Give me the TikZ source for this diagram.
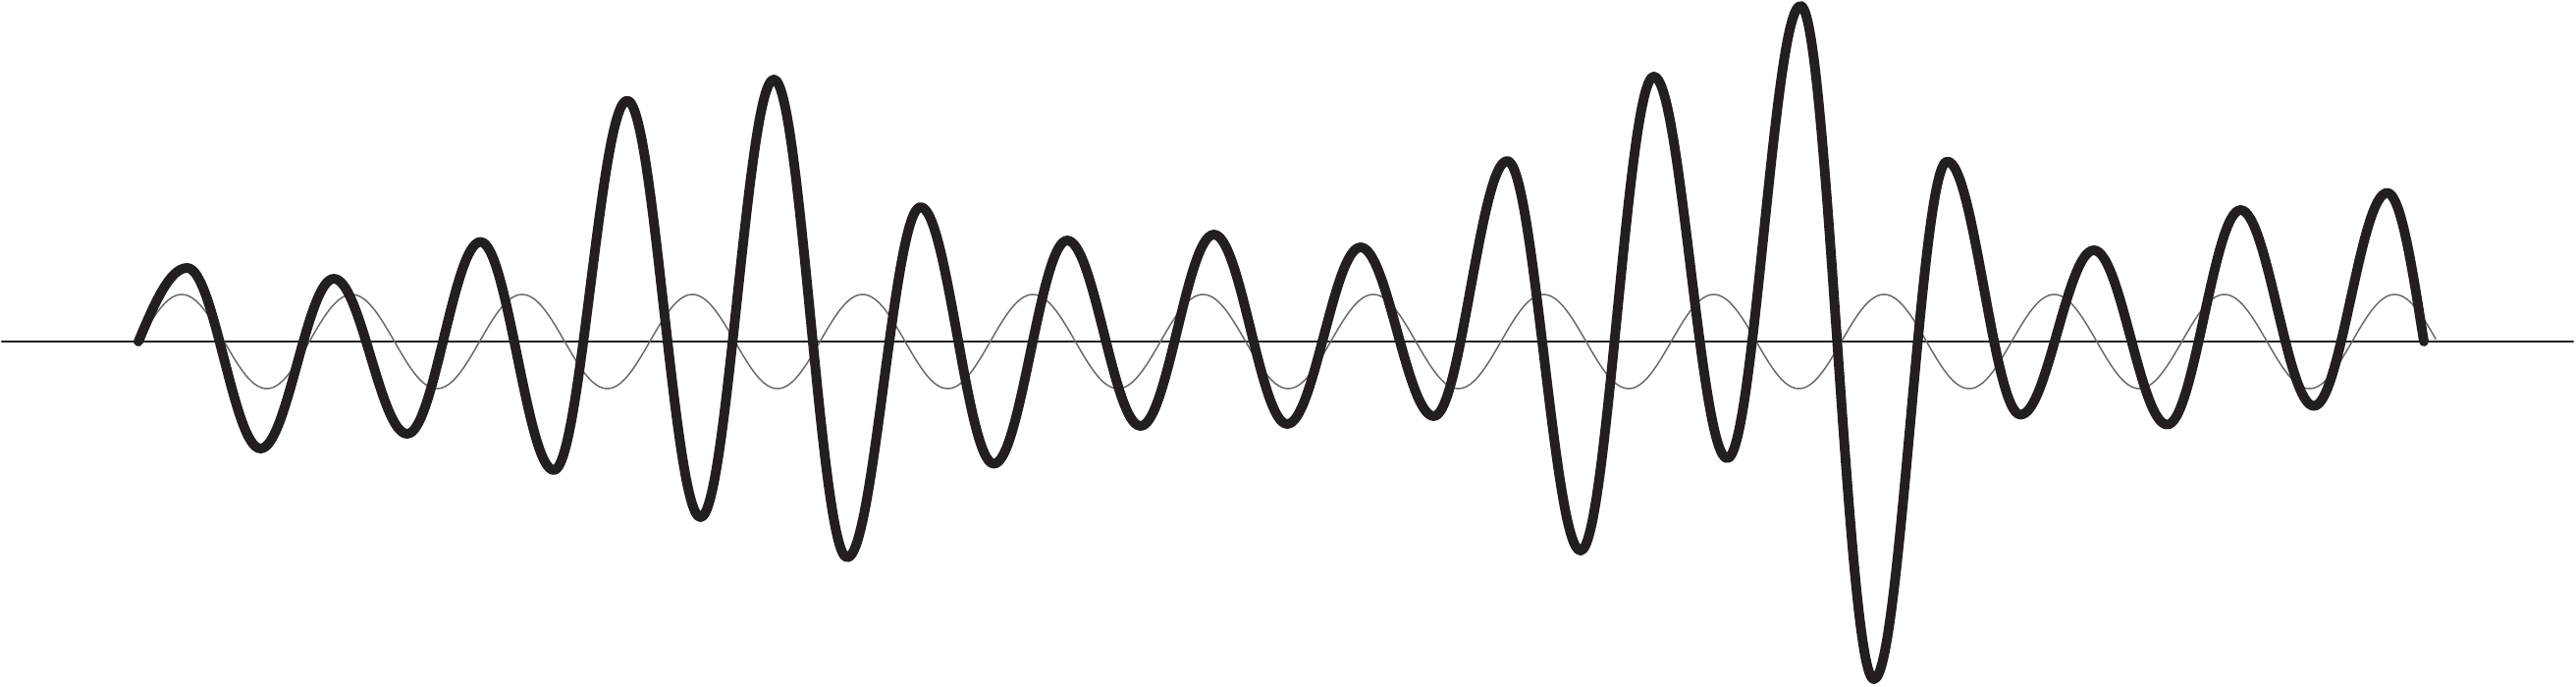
\documentclass[tikz,border=0pt]{standalone}
\usetikzlibrary{calc}
\definecolor{ink}{HTML}{231F20}
\definecolor{carrier}{HTML}{6A6868}
\begin{document}
\begin{tikzpicture}[x=0.01cm,y=-0.01cm,
  axisline/.style={draw=ink,line width=0.6pt,line cap=round},
  thinwave/.style={draw=carrier,line width=0.42pt},
  thickwave/.style={draw=ink,line width=2.8pt,line cap=round,line join=round}]
\useasboundingbox (0,0) rectangle (2624,700);
% axis
\coordinate (axL) at (2,348);
\coordinate (axR) at (2621,348);
\draw[axisline] (axL) -- (axR);
% carrier (thin) wave
\draw[thinwave] plot[domain=0:13.5,samples=700,smooth] ({141.7+173.4*\x},{348-48*sin(360*\x)});
% modulated (thick) wave: extremes
\foreach \y [count=\i from 0] in {273,457,284,442,246.5,479,102.5,527,81,568,211,472.5,245,434,239,432,252,424,164,561,78,467,6,692,164.5,422.5,255,432.6,214,413.6,196.5}
  \coordinate (p\i) at ({190.7+74.7*\i},\y);
\coordinate (s) at (141,348);
\coordinate (e) at (2469,348);
\draw[thickwave] (s) sin (p0)
  \foreach \j [remember=\j as \i (initially 0)] in {1,...,30} { cos ($(p\i)!0.5!(p\j)$) sin (p\j) }
  cos (e);
\end{tikzpicture}
\end{document}
